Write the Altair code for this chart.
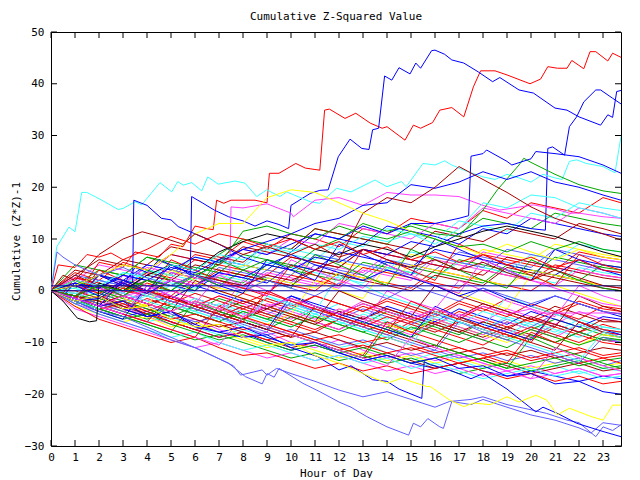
import altair as alt
import pandas as pd

# ---------------- axis values ----------------
HOURS = list(range(24)) + [23.75]
X_TICKS = list(range(24))
Y_TICKS = list(range(-30, 51, 10))

RED = "#ff0000"; GREEN = "#00a800"; BLUE = "#0000ff"; MAGENTA = "#ff40ff"
CYAN = "#40ffff"; DARKRED = "#a80000"; YELLOW = "#ffff00"; BLACK = "#000000"
SLATE = "#6060ff"; NAVY = "#0000a0"
FONT = "DejaVu Sans Mono"

# ---------------- background series (hourly readings) ----------------
u1 = [0, 3.5, 2, 5.5, 4, 3, 7, 6, 9.5, 8, 11, 10, 8.5, 12, 11, 14, 13, 12, 15.5, 14, 17, 16, 15, 18, 17]
u2 = [0, 1, 4, 3, 6.5, 5, 4, 7, 10, 9, 8, 12, 11, 10, 9, 13, 12, 11, 14, 13, 12, 15, 14, 13, 12.5]
u3 = [0, -1, 2, 1, 0, 3.5, 2.5, 6, 5, 4, 7.5, 11, 10, 9, 12.5, 11.5, 10.5, 9, 12, 11, 14, 13, 12, 11, 10.5]
u4 = [0, 2, 5, 4, 3, 7, 6, 5, 8, 7, 10, 9, 13, 12, 11, 10, 13, 12, 16, 15, 14, 13, 16, 15, 14]
u5 = [0, -1, 1.5, 0.5, 4, 3, 6.5, 5.5, 4.5, 8, 7, 6, 9.5, 8.5, 12, 11, 10, 13.5, 12.5, 11.5, 15, 14, 17, 16, 15.5]
u6 = [0, 4, 3, 6, 5, 8.5, 7.5, 6.5, 5.5, 9, 8, 12, 11, 10, 9, 8, 11.5, 10.5, 9.5, 12, 11, 10, 13, 12, 11]

m1 = [0, 1, -0.5, 2, 1, 4, 3, 2, 5, 4, 3, 6.5, 5.5, 4.5, 3.5, 7, 6, 5, 8, 7, 6, 9, 8, 7, 6.5]
m2 = [0, -1.5, 0.5, -0.5, 3, 2, 1, 4.5, 3.5, 2.5, 1.5, 5, 4, 3, 6, 5, 4, 7.5, 6.5, 5.5, 4.5, 8, 7, 6, 5.5]
m3 = [0, 2.5, 1.5, 0.5, 3.5, 2.5, 6, 5, 4, 3, 6.5, 5.5, 4.5, 8, 7, 6, 5, 4, 7, 6, 5, 4, 7.5, 6.5, 6]
m4 = [0, 0.5, 3, 2, 1, 0, 3.5, 2.5, 1.5, 5, 4, 3, 2, 5.5, 4.5, 3.5, 2.5, 6, 5, 4, 3, 6.5, 5.5, 4.5, 4]
m5 = [0, -1, -2.5, 0, -1, 2.5, 1.5, 0.5, 4, 3, 2, 1, 4.5, 3.5, 7, 6, 5, 4, 7.5, 6.5, 5.5, 4.5, 3.5, 6, 5.5]
m6 = [0, 3, 6, 5, 4, 7, 6, 5, 8.5, 7.5, 6.5, 5.5, 4.5, 8, 7, 6, 5, 4, 3, 6.5, 5.5, 4.5, 3.5, 2.5, 2]
m7 = [0, 1.5, 0.5, 3.5, 2.5, 1.5, 0.5, 3, 2, 5.5, 4.5, 3.5, 2.5, 1.5, 4.5, 3.5, 2.5, 5.5, 4.5, 3.5, 2.5, 1.5, 4.5, 3.5, 3]
m8 = [0, -0.5, -2, 1, 0, -1, 2.5, 1.5, 0.5, -0.5, 3, 2, 1, 4.5, 3.5, 2.5, 1.5, 0.5, 4, 3, 2, 5, 4, 3, 2.5]
m9 = [0, 2, 1, 0, -1, 2, 1, 4, 3, 2, 1, 0, 3.5, 2.5, 1.5, 0.5, 4, 3, 2, 1, 0, 3, 2, 1, 0.5]
m10 = [0, 5, 4, 3, 6.5, 5.5, 4.5, 3.5, 7, 6, 5, 4, 3, 2, 5.5, 4.5, 3.5, 2.5, 1.5, 5, 4, 3, 2, 5, 4.5]
m11 = [0, -1, 0.5, 3, 2, 1, 0, 3.5, 2.5, 1.5, 5, 4, 7.5, 6.5, 5.5, 4.5, 8, 7, 6, 5, 4, 3, 6, 5, 4.5]
m12 = [0, 1, 0, 1.5, 4.5, 3.5, 2.5, 1.5, 0.5, 3.5, 2.5, 1.5, 0.5, 4, 3, 2, 6, 5, 4, 3, 2, 1, 4, 3, 2.5]
m13 = [0, 0, 2, 1, 4, 3, 2, 6, 5, 9, 8, 7, 6, 5, 4, 7.5, 6.5, 5.5, 4.5, 3.5, 7, 6, 9, 8, 7.5]
m14 = [0, 2, 1, 0, 3, 2, 5, 4, 3, 2, 1, 4, 3, 2, 1, 0, 3, 2, 1, 4.5, 3.5, 2.5, 1.5, 0.5, 0]
m15 = [0, -1, -2, 0.5, -0.5, -1.5, 1.5, 0.5, -0.5, 2.5, 1.5, 0.5, 3.5, 2.5, 1.5, 5, 4, 3, 2, 1, 4, 3, 2, 1, 1]
m16 = [0, 3, 2, 1, 5, 4, 3, 2, 1, 4, 3, 7, 6, 5, 4, 3, 6.5, 5.5, 4.5, 8, 7, 6, 5, 4, 3.5]

l1 = [0, -1, -2.5, -1, -2.5, -4, -2, -3.5, -5, -3, -4.5, -6, -4, -5.5, -7, -5, -6.5, -4, -5.5, -7, -5.5, -6.5, -8, -6.5, -7.5]
l2 = [0, -2, -1, -3, -4.5, -2.5, -4, -1.5, -3, -4.5, -6, -3.5, -5, -6.5, -4, -5.5, -7, -8.5, -6, -7.5, -9, -6.5, -8, -9.5, -10]
l3 = [0, 1, -0.5, -2, 0, -1.5, -3, -1, -2.5, -4, -5.5, -3, -4.5, -2, -3.5, -5, -6.5, -4.5, -6, -3.5, -5, -6.5, -4, -5.5, -6]
l4 = [0, -1.5, -3, -2, -3.5, -5, -6.5, -4, -5.5, -3, -4.5, -6, -7.5, -5, -6.5, -8, -6, -7.5, -9, -7, -8.5, -10, -8, -9.5, -10]
l5 = [0, 0.5, -1, -2.5, -1, 1, -0.5, -2, -3.5, -1.5, -3, -4.5, -2.5, -4, -5.5, -3, -4.5, -6, -7.5, -5, -6.5, -8, -5.5, -7, -7.5]
l6 = [0, -1, -2, -3.5, -1.5, -3, -4.5, -6, -3.5, -5, -6.5, -8, -5.5, -7, -8.5, -6, -7.5, -9, -10.5, -8, -9.5, -7, -8.5, -10, -10.5]
l7 = [0, 2, 0.5, -1, 1.5, 0, -1.5, -3, -0.5, -2, -3.5, -1, -2.5, -4, -1.5, -3, -4.5, -2, -3.5, -5, -2.5, -4, -5.5, -3, -3.5]
l8 = [0, -2.5, -1.5, -3, -4.5, -3, -4.5, -6, -4, -5.5, -3.5, -5, -6.5, -8, -6, -7.5, -5.5, -7, -8.5, -6, -7.5, -5.5, -7, -8.5, -9]
l9 = [0, 1, 3, 1.5, 0, -1.5, 1, -0.5, -2, -3.5, -1, -2.5, -4, -5.5, -3, -4.5, -6, -3.5, -5, -6.5, -4, -5.5, -7, -5, -5.5]
l10 = [0, -1, 0.5, -1, -2.5, -4, -2, -3.5, -1.5, -3, -4.5, -6, -7.5, -5.5, -7, -8.5, -6.5, -8, -9.5, -7.5, -9, -6.5, -8, -9.5, -10]
l11 = [0, -0.5, -2, -3.5, -5, -3, -4.5, -2.5, -4, -5.5, -7, -4.5, -6, -7.5, -9, -6.5, -8, -5.5, -7, -8.5, -6, -7.5, -9, -7, -7.5]
l12 = [0, 1.5, 0, -1.5, -3, -1, -2.5, -4, -2, -3.5, -1.5, -3, -4.5, -2.5, -4, -5.5, -3.5, -5, -2.5, -4, -5.5, -3, -4.5, -6, -6]
l13 = [0, -1, -2.5, -4, -2.5, -4, -2, -3.5, -5, -6.5, -4.5, -6, -3.5, -5, -6.5, -8, -5.5, -7, -8.5, -10, -7.5, -9, -10.5, -8.5, -9]
l14 = [0, -2, -3.5, -2, -0.5, -2, -3.5, -5, -3, -4.5, -2.5, -4, -5.5, -3.5, -5, -6.5, -4.5, -6, -7.5, -5.5, -7, -4.5, -6, -7.5, -8]
l15 = [0, 0, -1.5, 0.5, -1, -2.5, -0.5, -2, -3.5, -1.5, -3, -1, -2.5, -4, -2, -3.5, -5, -2.5, -4, -1.5, -3, -4.5, -2.5, -4, -4.5]
l16 = [0, -1.5, -0.5, -2, -3.5, -5, -3, -4.5, -6, -7.5, -5, -6.5, -8, -6, -7.5, -9, -6.5, -8, -9.5, -11, -8.5, -10, -8, -9.5, -9.5]
l17 = [0, 2.5, 1, -0.5, -2, 0, -1.5, -3, -4.5, -2.5, -4, -5.5, -3.5, -5, -6.5, -4, -5.5, -7, -8.5, -6, -7.5, -9, -6.5, -8, -8.5]
l18 = [0, -1, -2.5, -1, -2.5, -1, -2.5, -4, -5.5, -3.5, -5, -6.5, -4, -5.5, -3.5, -5, -6.5, -8, -6, -7.5, -5, -6.5, -8, -5.5, -6]
l19 = [0, -0.5, 1, -0.5, -2, -3.5, -1.5, -3, -4.5, -6, -3.5, -5, -6.5, -4.5, -6, -7.5, -5, -6.5, -4, -5.5, -7, -8.5, -6.5, -8, -8]
l20 = [0, -2, -1, -2.5, -4, -2, -3.5, -5, -3, -4.5, -6, -7.5, -5.5, -7, -5, -6.5, -8, -6, -7.5, -9, -7, -8.5, -10, -8, -8.5]
l21 = [0, 1, -0.5, 1.5, 0, -1.5, -3, -1, -2.5, -0.5, -2, -3.5, -5, -3, -4.5, -6, -4, -5.5, -3, -4.5, -6, -4, -2, -3.5, -4]
l22 = [0, -1, -2.5, -4, -5.5, -3, -4.5, -6, -4, -5.5, -7, -5, -6.5, -8, -9.5, -7, -8.5, -10, -8, -9.5, -7.5, -9, -10.5, -9, -9.5]

d1 = [0, -2, -3.5, -5, -4, -6, -7.5, -9, -8, -10, -11.5, -10.5, -12, -13.5, -12.5, -14, -15, -14, -15.5, -16.5, -15.5, -16.5, -17.5, -16.5, -17]
d2 = [0, -2.5, -4, -3, -5, -6.5, -5.5, -7.5, -9, -8, -10, -11, -9.5, -11.5, -13, -12, -13.5, -12.5, -14, -15.5, -14.5, -16, -15, -16.5, -16]
d3 = [0, -1.5, -3, -4.5, -6, -5, -7, -8.5, -7.5, -9, -10.5, -9, -11, -10, -12, -13.5, -12, -13.5, -15, -14, -15.5, -14.5, -16, -15, -15.5]
d4 = [0, -2, -1, -3, -4.5, -6, -7.5, -6.5, -8, -9.5, -11, -10, -11.5, -13, -12, -13.5, -15, -14, -13, -14.5, -16, -15, -14, -15.5, -15]
d5 = [0, -3, -4.5, -6, -5, -7, -6, -8, -9.5, -11, -10, -11.5, -13, -12, -13.5, -12.5, -14, -13, -14.5, -13.5, -15, -14, -13, -14.5, -14]
d6 = [0, -1, -2.5, -4, -3, -4.5, -6, -5, -7, -8.5, -7.5, -9, -10.5, -9.5, -11, -12.5, -11.5, -13, -12, -13.5, -12.5, -14, -13, -14.5, -13.5]
d7 = [0, -2, -3.5, -2.5, -4.5, -6, -7.5, -9, -8, -9.5, -8.5, -10, -11.5, -10.5, -12, -11, -12.5, -14, -13, -12, -13.5, -12.5, -14, -13, -12.5]
d8 = [0, -1.5, -3.5, -5, -6.5, -8, -9.5, -8.5, -10, -11.5, -13, -12, -13.5, -12.5, -14, -13, -14.5, -16, -15, -14, -15.5, -14.5, -13.5, -15, -14.5]
d9 = [0, -3.5, -5, -6.5, -8, -9.5, -11, -10, -11.5, -13, -12, -13.5, -12.5, -14, -15.5, -14.5, -16, -15, -16.5, -15.5, -17, -16, -15, -16.5, -16]
d10 = [0, -1, -2, -3.5, -5, -4, -5.5, -7, -6, -7.5, -9, -8, -9.5, -11, -10, -11.5, -10.5, -12, -11, -12.5, -11.5, -13, -12, -11, -11.5]
d11 = [0, -2.5, -4.5, -6, -7.5, -9, -8, -10, -11.5, -10.5, -12, -13.5, -12.5, -14, -13, -15, -14, -15.5, -17, -16, -15, -16.5, -15.5, -17, -16.5]
d12 = [0, -1, -3, -2, -4, -5.5, -4.5, -6, -7.5, -6.5, -8, -9.5, -8.5, -10, -9, -10.5, -12, -11, -12.5, -11.5, -13, -12, -11, -12.5, -12]
d13 = [0, -3, -5.5, -7, -8.5, -10, -9, -11, -12.5, -12, -13.5, -15, -14, -15.5, -14.5, -16, -15, -14, -15.5, -17, -16, -17.5, -16.5, -18, -17.5]
d14 = [0, -2, -4, -5.5, -4.5, -6.5, -8, -9.5, -8.5, -10, -11.5, -10.5, -12, -11, -12.5, -14, -13, -12, -13.5, -15, -14, -13, -14.5, -13.5, -13]

j1 = [0, -2, -4, -5.5, 1, -1, -3, -4.5, -6, -7.5, -1, -3, -4.5, -6, -7.5, -9, -3, -5, -6.5, -8, -9.5, -4, -6, -7.5, -8.5]
j2 = [0, -1.5, -3, 3, 1, -1, -2.5, -4, 2, 0, -2, -3.5, -5, -6.5, 0, -2, -3.5, 2, 0, -2, -3.5, -5, 1, -1, -2]
j3 = [0, -2, 3, 1, -1, -2.5, -4, -5.5, 1, -1, -2.5, -4, 3, 1, -1, -2.5, -4, -5.5, -7, -1, -3, -4.5, -6, -7.5, -8]
j4 = [0, -1.5, -3, -4.5, -6, -1, -3, -4.5, -6, -7.5, -9, -3, -5, -6.5, -8, -9.5, -11, -5, -7, -8.5, -10, -11.5, -6, -8, -9]
j5 = [0, 2, 0, -1.5, -3, 4, 2, 0, -1.5, -3, -4.5, 2, 0, -1.5, 5, 3, 1, -0.5, -2, -3.5, 3, 1, -0.5, -2, -3]
j6 = [0, -1.5, -3, -4.5, 0, -2, -3.5, -5, -6.5, -8, -2, -4, -5.5, -7, -8.5, -10, -11.5, -6, -8, -9.5, -11, -12.5, -14, -9, -10]
j7 = [0, -1.5, 4, 2, 0, -1.5, -3, -4.5, -6, 0, -2, -3.5, -5, -6.5, -8, -2, -4, -5.5, -7, -8.5, -10, -4, -6, -7.5, -8]
j8 = [0, -2, -3.5, -5, -6.5, -8, -2, -4, -5.5, -7, -8.5, -10, -11.5, -13, -7, -9, -10.5, -12, -13.5, -15, -9, -11, -12.5, -14, -15]
j9 = [0, -1.5, -3, -4.5, -6, -7.5, -9, -10.5, -5, -7, -8.5, -10, -11.5, -13, -14.5, -9, -11, -12.5, -14, -15.5, -17, -11, -13, -14.5, -15.5]
j10 = [0, 3, 1, -1, -2.5, -4, 2, 0, -1.5, -3, -4.5, -6, 0, -2, -3.5, -5, 1, -1, -2.5, -4, -5.5, -7, -1, -3, -4]
j11 = [0, -2, -3.5, 1, -1, -2.5, -4, -5.5, -7, -1, -3, -4.5, -6, -7.5, -9, -10.5, -4, -6, -7.5, -9, -10.5, -12, -13.5, -8, -9]
j12 = [0, -1.5, -3, -4.5, -6, -7.5, -9, -3, -5, -6.5, -8, -9.5, -11, -12.5, -6, -8, -9.5, -11, -12.5, -14, -8, -10, -11.5, -13, -14]

k1 = [0, -1.5, 3, 1, -0.5, 6, 4, 2, 0.5, -1, 5, 3, 1, 8, 6, 4, 2, 9, 7, 5, 3, 1, 7, 5, 4]
k2 = [0, 2, 0, -1.5, 4, 2, 0, 6, 4, 2, 0.5, 7, 5, 3, 1, 8, 6, 4, 2, 0.5, 6, 4, 2, 0.5, 0]
k3 = [0, -1.5, -3, 2, 0, 5, 3, 1, -0.5, 6, 4, 2, 9, 7, 5, 3, 10, 8, 6, 4, 2, 8, 6, 4, 3]
k4 = [0, -1.5, -3, -4.5, 1, -1, -2.5, 3, 1, -1, 6, 4, 2, 0.5, 5, 3, 1, -0.5, 6, 4, 2, 0.5, -1, -2.5, -3]

# ---------------- prominent series (hour, value vertices) ----------------
red_top_h = [0, 0.5, 1, 1.5, 2, 2.5, 3, 3.5, 4, 4.5, 5, 5.5, 6, 6.5, 6.76, 6.9, 7.2, 7.5, 8, 8.5,
             9.0, 9.1, 9.5, 10.2, 10.6, 11.2, 11.4, 11.6, 12.25, 12.7, 13.3, 13.8, 14.0, 14.75, 15.1, 15.4,
             15.9, 16.2, 16.7, 17.2, 17.6, 17.9, 18.5, 19.0, 19.96, 20.4, 20.7, 21.1, 21.5, 21.7, 22.2,
             22.46, 22.7, 23.2, 23.4, 23.75]
red_top_v = [0, -0.5, 2.5, 2, 5.5, 5, 4.5, 7.5, 7, 6.5, 9, 8.5, 12.5, 12, 11.8, 17.5, 16.9, 17.5, 17.5, 17.5,
             17, 22.7, 22.7, 24.6, 23.7, 23.3, 34.9, 35.1, 33.3, 34.3, 32.4, 31.4, 31.7, 29.1, 32.0, 31.4,
             32.5, 34.9, 35.4, 33.6, 39.4, 42.5, 42.5, 41.7, 40.0, 40.9, 43.3, 43.0, 43.0, 44.5, 42.9,
             46.2, 46.2, 44.4, 45.9, 45.1]

blue_top_h = [0, 0.5, 1, 1.5, 2, 2.5, 3, 3.5, 4, 4.5, 5, 5.5, 5.8, 5.86, 6.3, 6.8, 7.4, 8, 8.5, 9,
              9.5, 9.9, 10, 10.8, 11.2, 11.55, 11.97, 12.46, 12.95, 13.25, 13.4, 13.65, 13.9, 14.2, 14.5,
              14.96, 15.2, 15.4, 15.86, 16.0, 16.4, 16.7, 17.2, 17.8, 18.4, 18.7, 19.3, 19.5, 20.1, 21.0,
              21.5, 22.0, 22.9, 23.2, 23.4, 23.57, 23.75]
blue_top_v = [0, -1, 1.5, 0.5, 3, 2, 1, 4.5, 3.5, 6, 5, 4, 3, 18.2, 17, 15.6, 14.3, 13.5, 12.5, 13.5,
              12.8, 12, 16.5, 18.8, 19.4, 19.5, 25.9, 29.3, 27.5, 27.3, 31.1, 31.4, 41.5, 40.7, 43.1,
              41.9, 44.0, 43.0, 46.4, 46.5, 45.7, 44.6, 44.0, 42.3, 40.4, 41.2, 39.4, 38.8, 38.2, 35.3,
              34.9, 33.6, 32.0, 34.0, 33.5, 38.5, 38.7]

blue_late_h = [0, 1, 2, 3, 4, 5, 6, 7, 8, 9, 10, 11, 12, 13, 14, 15, 16, 17, 18, 19, 20,
               20.6, 20.7, 20.9, 21.4, 21.6, 21.9, 22.2, 22.7, 22.9, 23.4, 23.75]
blue_late_v = [0, -2, -1.5, 1.5, -0.5, 2, 1, 3.5, 2.5, 5, 4, 6.5, 5.5, 8, 7, 9.5, 8.5, 11, 12.5, 13, 12,
               11.7, 27.5, 27.8, 26.2, 31.7, 33.6, 36.5, 38.8, 38.8, 37.2, 36.1]

cyan_top_h = [0, 0.24, 0.75, 1.0, 1.28, 1.49, 2.0, 2.8, 3.0, 3.5, 3.78, 4.54, 5.03, 5.28, 5.51, 5.86,
              6.28, 6.53, 6.97, 7.67, 8.08, 8.57, 8.99, 9.54, 9.82, 10.8, 11.2, 11.9, 12.5, 13.5, 14.0,
              14.6, 14.8, 15.5, 16.0, 16.4, 16.7, 17.2, 18.0, 18.5, 19.0, 19.5, 20.0, 20.5, 21.0, 21.3,
              21.6, 21.9, 22.3, 23.0, 23.5, 23.75]
cyan_top_v = [0, 8.5, 12.3, 11.4, 19.0, 19.0, 17.8, 15.7, 15.9, 17.2, 16.6, 20.9, 19.1, 21.1, 20.4, 20.9,
              19.3, 22.0, 20.6, 21.2, 20.8, 18.2, 19.5, 18.2, 19.1, 17.2, 16.9, 19.8, 19.1, 21.4, 20.1,
              21.1, 20.1, 24.6, 24.3, 25.1, 24.3, 23.3, 22.0, 21.5, 22.5, 21.8, 21.0, 22.5, 21.8, 21.5,
              25.0, 25.3, 24.6, 24.0, 22.8, 29.8]

slate_low_h = [0, 1, 2, 3, 4, 5, 6, 6.8, 7.4, 8.1, 8.8, 9.0, 9.3, 9.5, 10.5, 11.2, 12, 12.5, 13.15, 14.0,
               14.9, 15.1, 15.4, 15.7, 16.2, 16.35, 16.7, 17.5, 18, 19, 20, 21, 22, 22.5, 23, 23.75]
slate_low_v = [0, -2, -4, -5, -7, -9, -11, -12.7, -14, -16.6, -18, -16, -16.7, -15, -17.9, -19.5, -21.5,
               -22.5, -24.3, -26.3, -27.9, -25.6, -26.3, -24.7, -26.3, -26.6, -21.4, -22, -21, -22.5,
               -24, -25, -26.5, -27.5, -25.5, -26]

slate_mid_h = [0, 1, 2, 3, 4, 5, 6, 6.8, 7.6, 7.9, 8.8, 9.0, 9.4, 10, 11, 12, 13, 14, 15, 16, 16.6,
               17.5, 18, 19, 20, 20.65, 21.5, 22, 22.7, 23, 23.4, 23.75]
slate_mid_v = [0, -2.5, -4.5, -6, -7.5, -9.5, -11, -12.7, -14.5, -16.3, -15.3, -16.3, -15, -16, -17.5,
               -19.2, -20.5, -19.5, -21, -22.5, -21.4, -21, -20.5, -22, -23, -23.7, -25, -25.5, -28.2,
               -26.3, -27, -25.9]

blue_low_h = [0, 1, 2, 3, 4, 5, 6, 7, 8, 9, 10, 11.1, 12.0, 12.5, 13.4, 14.0, 14.5, 15.45, 15.55, 15.8,
              16.6, 17.5, 18.0, 19.0, 19.4, 20.2, 20.5, 21.1, 21.9, 23.0, 23.75]
blue_low_v = [0, -1.5, -3, -2, -5, -4, -7, -8, -9, -8.5, -11, -12.7, -15.3, -14.5, -17.2, -17.5, -19,
              -20.8, -13.7, -14.3, -15.3, -17, -16, -19, -20.5, -23.4, -22.5, -23.7, -25.6, -27.2, -28.2]

blue_mid_low_v = [0, -2, -1, -3.5, -5, -4, -6.5, -8, -7, -9, -10.5, -10, -12, -13.5, -12.5, -14, -13,
                  -15, -14.5, -16.5, -16, -18, -17.5, -19.5, -20]

yellow_low_h = [0, 1, 2, 3, 4, 5, 6, 7, 8, 9, 10, 11, 12, 13.15, 14.0, 14.6, 15.65, 15.8, 16.6, 17.2,
                17.6, 18.3, 19, 19.5, 20.2, 20.65, 21.1, 21.6, 22.5, 23.0, 23.4, 23.75]
yellow_low_v = [0, -2, -1, -3.5, -3, -5.5, -7, -6.5, -9, -10.5, -10, -12.5, -14, -16.3, -17.9, -16.9,
                -18.5, -18.5, -21.1, -22.4, -21.7, -22, -20.5, -21.5, -20.2, -21.1, -24, -22.7, -24.3,
                -25, -22.1, -22.1]

blue_jump_h = [0, 1, 2, 3, 3.4, 3.45, 4, 4.6, 5, 5.3, 6, 7, 8, 9, 10, 11, 12, 13, 14, 15, 16, 17, 18,
               19, 20, 21, 22, 23, 23.75]
blue_jump_v = [0, 1, -1, 2, 1.5, 17.5, 16.5, 14, 13.7, 12.4, 11, 9, 6.5, 5, 7, 5, 3.5, 2, 4, 2.5, 1,
               -1, 0.5, -1.5, -3, -1, -2.5, -4, -5]

magenta_hi_h = [0, 1, 2, 3, 4, 5, 6, 7, 7.45, 7.5, 8, 9, 10, 10.1, 11, 12, 13, 14, 15, 16, 17, 18,
                18.7, 19, 20.1, 21, 21.6, 22, 23, 23.75]
magenta_hi_v = [0, -1, 1, -1, 0, 2, 1, 3, 3.4, 16.2, 16, 16.8, 15, 14.3, 17.5, 18, 16.5, 19, 18.5,
                18.5, 18.2, 16.5, 15.6, 15.8, 16.6, 15.8, 15, 15, 14.3, 14]

black_h = [0, 0.5, 1.1, 1.6, 1.9, 2.0, 3, 4, 5, 6, 7, 8, 9, 10, 11, 12, 13, 14, 15, 16, 17, 18, 19,
           20, 21, 22, 23, 23.75]
black_v = [0, -2, -5.3, -6, -5.8, 1.5, 0, 3, 5, 4, 7.5, 9.5, 11, 10, 8, 7, 9, 8, 6.5, 8.5, 10, 11.5,
           12.5, 11.5, 10.5, 9, 7.5, 6.6]

green_hi_h = [0, 1, 2, 3, 4, 5, 6, 7, 8, 9, 10, 11, 12, 13, 14, 15, 16, 17, 18, 18.6, 19.5, 19.7, 20,
              21, 22, 23, 23.75]
green_hi_v = [0, -1, 1, -1, 2, 0, 3, 1, 4, 6, 4.5, 8, 10, 13, 11.5, 12.5, 11, 10.5, 15.6, 19.5, 24.3,
              25.6, 24.8, 22.5, 20.5, 19.3, 18.8]

blue_b_h = [0, 1, 2, 3, 4, 5, 6, 7, 8, 9, 10, 11, 12, 13, 14, 15, 16, 17, 17.4, 17.5, 18, 18.15, 19,
            19.2, 20, 20.2, 21, 22, 23, 23.75]
blue_b_v = [0, 1.5, 0.5, 3, 2, 4.5, 3.5, 6, 8, 7, 9, 11, 10, 12.5, 11, 13, 13, 14, 14.5, 26, 26.5, 27.2,
            25, 24.3, 25.5, 26.9, 26.5, 25.9, 24.3, 22.7]

blue_c_v = [0, 1, 3, 2, 5, 4, 6.5, 5.5, 8, 9.5, 11, 13, 14, 16.5, 17, 20.5, 19.8, 21, 23, 21.5, 23, 21,
            20, 18.5, 17.5]
cyan_b_v = [0, 2, 1, 3.5, 2.5, 5, 4, 7, 6, 8.5, 7.5, 9, 8, 10.5, 9.5, 11, 9, 12, 17, 16, 18.5, 18, 16,
            15, 14]
darkred_hi_v = [0, -1, 1, 0, 2, 1, 3, 2, 1, 3, 2, 4, 6, 15, 18, 17, 20, 24, 21.5, 19, 16.2, 14, 12.5,
                11, 9.8]
yellow_hi_v = [0, 1, 3, 5, 4, 7, 11, 13, 13, 18, 19.5, 19, 17, 15, 13.5, 11.5, 10, 8.5, 7, 9, 7.5, 6, 8,
               6.5, 6]
green_b_v = [0, -1, 1, 0, 2, 1, 3, 5, 11.5, 12.5, 11, 10, 12.5, 11, 10, 11.5, 10, 8.5, 9, 7.5, 9.5, 8,
             9.5, 8, 7.5]

magenta_flat_h = list(range(21)) + [20.3, 23.75]
magenta_flat_v = [0, -1.5, -3, -1, -2.5, -4, -2, -3.5, -5, -3, -1.5, -3, -4.5, -2.5, -4, -5.5, -3.5,
                  -5, -3, -4.5, -3.5, -4.3, -4.3]

darkred_early_h = [0, 0.5, 1, 2, 3, 3.8, 4.5, 5.5, 6, 7, 8, 9, 10, 11, 12, 13, 14, 15, 16, 17, 18, 19,
                   20, 21, 22, 23, 23.75]
darkred_early_v = [0, 3, 2, 7, 10, 11.4, 10.5, 9, 11, 9, 7, 8.5, 7, 9, 6.5, 8, 6, 4.5, 6, 4, 5.5, 3.5,
                   2, 4, 2.5, 1, 0.5]
red_early_h = [0, 0.3, 1, 1.5, 2, 2.5, 3, 4, 5, 6, 7, 8, 9, 10, 11, 12, 13, 14, 15, 16, 17, 18, 19,
               20, 21, 22, 23, 23.75]
red_early_v = [0, 5, 4.5, 7, 6.5, 7.3, 6, 8, 10.5, 9, 11, 10, 8.5, 10, 8, 9.5, 7, 8.5, 6, 7.5, 5.5, 7,
               5, 6.5, 4.5, 6, 4, 3.5]
slate_early_h = [0, 0.25, 0.5] + list(range(1, 24)) + [23.75]
slate_early_v = [0, 7.5, 6.5, 5, 3, 4.5, 2.5, 1, 3, 1.5, 0, 2, 0.5, -1, 1.5, 0, -1.5, 1, -0.5, -2, 0.5,
                 -1, -2.5, -1, -2.5, -4, -4.5]

flat_h = [0, 23.75]
flat_levels = [0, 0.95]

# ---------------- table ----------------
rows = []


def add(name, hs, vs, col):
    for h, v in zip(hs, vs):
        rows.append({"s": name, "h": h, "v": v, "c": col})


background = [u1, u2, u3, u4, u5, u6,
              m1, m2, m3, m4, m5, m6, m7, m8, m9, m10, m11, m12, m13, m14, m15, m16,
              l1, l2, l3, l4, l5, l6, l7, l8, l9, l10, l11, l12, l13, l14, l15, l16, l17, l18, l19,
              l20, l21, l22,
              d1, d2, d3, d4, d5, d6, d7, d8, d9, d10, d11, d12, d13, d14,
              j1, j2, j3, j4, j5, j6, j7, j8, j9, j10, j11, j12, k1, k2, k3, k4]
cycle = [RED, GREEN, BLUE, MAGENTA, CYAN, DARKRED, YELLOW, SLATE, RED, GREEN, MAGENTA, DARKRED,
         CYAN, RED]
for i, vals in enumerate(background):
    add(f"bg{i}", HOURS, vals, cycle[i % len(cycle)])

prominent = [
    ("red_top", red_top_h, red_top_v, RED),
    ("blue_top", blue_top_h, blue_top_v, BLUE),
    ("blue_late", blue_late_h, blue_late_v, BLUE),
    ("cyan_top", cyan_top_h, cyan_top_v, CYAN),
    ("slate_low", slate_low_h, slate_low_v, SLATE),
    ("slate_mid", slate_mid_h, slate_mid_v, SLATE),
    ("blue_low", blue_low_h, blue_low_v, BLUE),
    ("blue_mid_low", HOURS, blue_mid_low_v, BLUE),
    ("yellow_low", yellow_low_h, yellow_low_v, YELLOW),
    ("blue_jump", blue_jump_h, blue_jump_v, BLUE),
    ("magenta_hi", magenta_hi_h, magenta_hi_v, MAGENTA),
    ("black", black_h, black_v, BLACK),
    ("green_hi", green_hi_h, green_hi_v, GREEN),
    ("blue_b", blue_b_h, blue_b_v, BLUE),
    ("blue_c", HOURS, blue_c_v, BLUE),
    ("cyan_b", HOURS, cyan_b_v, CYAN),
    ("darkred_hi", HOURS, darkred_hi_v, DARKRED),
    ("yellow_hi", HOURS, yellow_hi_v, YELLOW),
    ("green_b", HOURS, green_b_v, GREEN),
    ("magenta_flat", magenta_flat_h, magenta_flat_v, MAGENTA),
    ("darkred_early", darkred_early_h, darkred_early_v, DARKRED),
    ("red_early", red_early_h, red_early_v, RED),
    ("slate_early", slate_early_h, slate_early_v, SLATE),
]
for name, hs, vs, col in prominent:
    add(name, hs, vs, col)

df = pd.DataFrame(rows)
flat_df = pd.DataFrame([{"s": f"z{k}", "h": h, "v": lvl}
                        for k, lvl in enumerate(flat_levels) for h in flat_h])
xt = pd.DataFrame({"t": X_TICKS})
yt = pd.DataFrame({"t": Y_TICKS})

x_scale = alt.Scale(domain=[0, 23.75], nice=False, zero=False)
y_scale = alt.Scale(domain=[-30, 50], nice=False, zero=False)

x_axis = alt.Axis(values=X_TICKS, title="Hour of Day", grid=False, ticks=False, tickSize=0,
                  domain=False, labelFont=FONT, labelFontSize=11, labelColor="black",
                  labelPadding=5, labelFlush=False, labelOverlap=False, format="d",
                  titleFont=FONT, titleFontSize=11, titleFontWeight="normal", titleColor="black",
                  titleY=27, titleBaseline="middle")
y_axis = alt.Axis(values=Y_TICKS, title="Cumulative (Z*Z)-1", grid=False, ticks=False, tickSize=0,
                  domain=False, labelFont=FONT, labelFontSize=11, labelColor="black",
                  labelPadding=7, labelFlush=False, labelOverlap=False, format="d",
                  titleFont=FONT, titleFontSize=11, titleFontWeight="normal", titleColor="black",
                  titleX=-35, titleY=209, titleAngle=270, titleBaseline="middle", titleAlign="center")

lines = alt.Chart(df).mark_line(strokeWidth=1, clip=True).encode(
    x=alt.X("h:Q", scale=x_scale, axis=x_axis),
    y=alt.Y("v:Q", scale=y_scale, axis=y_axis),
    color=alt.Color("c:N", scale=None),
    detail="s:N",
    order=alt.Order("h:Q"),
)
flats = alt.Chart(flat_df).mark_line(strokeWidth=1, color=NAVY, clip=True).encode(
    x=alt.X("h:Q", scale=x_scale, axis=x_axis),
    y=alt.Y("v:Q", scale=y_scale, axis=y_axis),
    detail="s:N",
)
tick_bottom = alt.Chart(xt).mark_rule(color="black", strokeWidth=1).encode(
    x=alt.X("t:Q", scale=x_scale, axis=x_axis), y=alt.value(408), y2=alt.value(414))
tick_top = alt.Chart(xt).mark_rule(color="black", strokeWidth=1).encode(
    x=alt.X("t:Q", scale=x_scale, axis=x_axis), y=alt.value(0), y2=alt.value(6))
tick_left = alt.Chart(yt).mark_rule(color="black", strokeWidth=1).encode(
    y=alt.Y("t:Q", scale=y_scale, axis=y_axis), x=alt.value(0), x2=alt.value(6))
tick_right = alt.Chart(yt).mark_rule(color="black", strokeWidth=1).encode(
    y=alt.Y("t:Q", scale=y_scale, axis=y_axis), x=alt.value(564), x2=alt.value(570))

chart = alt.layer(lines, flats, tick_bottom, tick_top, tick_left, tick_right).properties(
    width=570, height=414,
    title=alt.TitleParams("Cumulative Z-Squared Value", font=FONT, fontSize=11,
                          fontWeight="normal", color="black", anchor="middle", offset=4),
    padding={"left": 43, "top": 24, "right": 9, "bottom": 32},
    autosize=alt.AutoSizeParams(type="none"),
    background="white",
).configure_view(stroke="black", strokeWidth=1)

chart.save("out.html", embed_options={"renderer": "svg", "actions": False})
